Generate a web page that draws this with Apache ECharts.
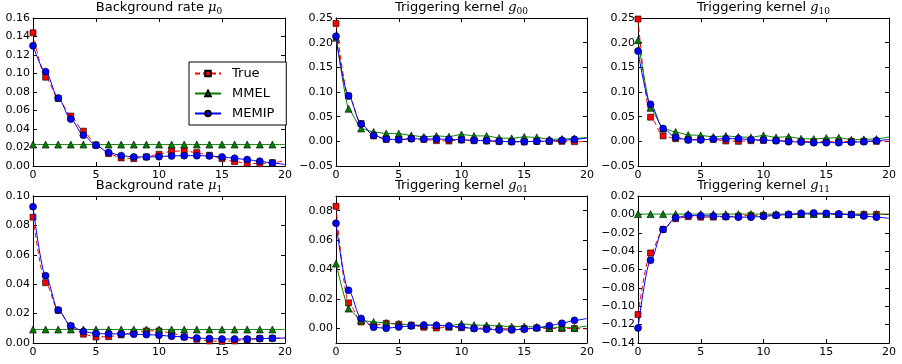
<!DOCTYPE html>
<html>
<head>
<meta charset="utf-8">
<script src="https://cdn.jsdelivr.net/npm/echarts@6/dist/echarts.min.js"></script>
<style>
html,body{margin:0;padding:0;background:#fff;}
#chart{width:902px;height:364px;}
</style>
</head>
<body>
<div id="chart"></div>
<script>
// ---------- data ----------
const xs = [0,1,2,3,4,5,6,7,8,9,10,11,12,13,14,15,16,17,18,19,20];
const xTicks = [0,5,10,15,20];

const trueMu0  = [0.144,0.096,0.073,0.054,0.0377,0.0228,0.0134,0.0087,0.008,0.0098,0.0127,0.016,0.0163,0.0145,0.0116,0.008,0.0047,0.003,0.0025,0.0036,0.006];
const mmelMu0  = [0.0232,0.0232,0.0232,0.0232,0.0232,0.0232,0.0232,0.0232,0.0232,0.0232,0.0232,0.0232,0.0232,0.0232,0.0232,0.0232,0.0232,0.0232,0.0232,0.0232,0.0232];
const memipMu0 = [0.130,0.102,0.0735,0.0507,0.0333,0.0224,0.0145,0.0112,0.0098,0.0098,0.0101,0.0109,0.0112,0.0112,0.0109,0.0098,0.0083,0.0069,0.0051,0.0033,0.0015];

const trueG00  = [0.239,0.092,0.036,0.011,0.004,0.0034,0.0054,0.004,0.0014,0.0007,0.0027,0.0014,0.0007,0,-0.0007,-0.001,0,0,0,-0.0007,-0.0007];
const mmelG00  = [0.21,0.066,0.026,0.019,0.016,0.0156,0.012,0.009,0.011,0.0095,0.014,0.011,0.011,0.0068,0.006,0.009,0.008,0.004,0.0047,0.0054,0.008];
const memipG00 = [0.213,0.092,0.035,0.012,0.0047,0.0034,0.0054,0.0047,0.0047,0.004,0.0034,0.002,0.0014,0,-0.0007,-0.0007,0,0.0007,0.002,0.004,0.0068];

const trueG10  = [0.248,0.049,0.011,0.0054,0.0034,0.004,0.004,0.0007,0,0.0014,0.002,0.0014,0.0007,0,-0.0007,-0.0007,-0.0007,0,0,0,0];
const mmelG10  = [0.205,0.068,0.026,0.019,0.013,0.012,0.009,0.011,0.009,0.008,0.012,0.008,0.0095,0.0054,0.0047,0.0068,0.0075,0.0034,0.004,0.0047,0.009];
const memipG10 = [0.183,0.075,0.026,0.008,0.0027,0.0027,0.0047,0.0054,0.0054,0.0034,0.0027,0.0014,-0.0007,-0.0014,-0.0027,-0.0027,-0.0027,-0.002,-0.0007,0.0014,0.004];

const trueMu1  = [0.0856,0.041,0.0222,0.0114,0.006,0.0041,0.0043,0.0055,0.0073,0.0082,0.0082,0.0069,0.0041,0.0025,0.0014,0.0011,0.0014,0.0023,0.003,0.0032,0.0034];
const mmelMu1  = [0.0092,0.0092,0.0092,0.0092,0.0092,0.0092,0.0092,0.0092,0.0092,0.0092,0.0092,0.0092,0.0092,0.0092,0.0092,0.0092,0.0092,0.0092,0.0092,0.0092,0.0092];
const memipMu1 = [0.0927,0.0458,0.0224,0.0117,0.0078,0.0064,0.0062,0.0062,0.006,0.0057,0.0053,0.0046,0.0041,0.0034,0.003,0.0027,0.0027,0.0027,0.003,0.0032,0.0034];

const trueG01  = [0.083,0.0173,0.0043,0.002,0.0034,0.0027,0.0022,0.0007,0.0002,0.0007,0.0004,0,0.0002,-0.0002,-0.0004,-0.0002,0.0002,-0.0002,-0.0002,-0.0002,-0.0004];
const mmelG01  = [0.044,0.0134,0.0054,0.0043,0.0036,0.0031,0.0022,0.0022,0.0022,0.0016,0.0031,0.0022,0.002,0.0016,0.0011,0.0013,0.0009,0.0002,0.0007,0.0004,0.0016];
const memipG01 = [0.0715,0.0258,0.0067,0.0007,0,0.0009,0.0016,0.0022,0.002,0.0016,0.0009,-0.0002,-0.0007,-0.0011,-0.0011,-0.0007,0.0002,0.0018,0.0034,0.0054,0.0067];

const trueG11  = [-0.109,-0.042,-0.0164,-0.0047,-0.0025,-0.003,-0.003,-0.0025,-0.0018,-0.0011,-0.0011,-0.0007,-0.0004,0,0.0004,0.0004,0,0,0,0,0];
const mmelG11  = [0.0003,0.0003,0.0003,0.0003,0.0003,0.0003,0.0003,0.0003,0.0003,0.0003,0.0003,0.0003,0.0003,0.0003,0.0003,0.0003,0.0003,0.0003,0.0003,0.0003,0.0003];
const memipG11 = [-0.1236,-0.0498,-0.0164,-0.0036,-0.0011,-0.0015,-0.0018,-0.0025,-0.003,-0.003,-0.0022,-0.0011,0,0.0011,0.0015,0.0011,0.0004,-0.0004,-0.0018,-0.003,-0.0044];

const yTicksMu0 = [0,0.02,0.04,0.06,0.08,0.10,0.12,0.14,0.16];
const yTicksG00 = [-0.05,0,0.05,0.10,0.15,0.20,0.25];
const yTicksG10 = [-0.05,0,0.05,0.10,0.15,0.20,0.25];
const yTicksMu1 = [0,0.02,0.04,0.06,0.08,0.10];
const yTicksG01 = [0,0.02,0.04,0.06,0.08];
const yTicksG11 = [-0.14,-0.12,-0.10,-0.08,-0.06,-0.04,-0.02,0,0.02];

const seriesNames = ['True','MMEL','MEMIP'];

// ---------- layout ----------
const panels = [
  {title:'{n|Background rate }{m|μ}{s|0}', grid:{left:33,top:18,width:252,height:148}, yMin:0, yMax:0.16, yTicks:yTicksMu0, data:[trueMu0,mmelMu0,memipMu0]},
  {title:'{n|Triggering kernel }{m|g}{s|00}', grid:{left:336,top:18,width:251,height:148}, yMin:-0.05, yMax:0.25, yTicks:yTicksG00, data:[trueG00,mmelG00,memipG00]},
  {title:'{n|Triggering kernel }{m|g}{s|10}', grid:{left:638,top:18,width:251,height:148}, yMin:-0.05, yMax:0.25, yTicks:yTicksG10, data:[trueG10,mmelG10,memipG10]},
  {title:'{n|Background rate }{m|μ}{s|1}', grid:{left:33,top:196,width:252,height:147}, yMin:0, yMax:0.10, yTicks:yTicksMu1, data:[trueMu1,mmelMu1,memipMu1]},
  {title:'{n|Triggering kernel }{m|g}{s|01}', grid:{left:336,top:196,width:251,height:147}, yMin:-0.01, yMax:0.09, yTicks:yTicksG01, data:[trueG01,mmelG01,memipG01]},
  {title:'{n|Triggering kernel }{m|g}{s|11}', grid:{left:638,top:196,width:251,height:147}, yMin:-0.14, yMax:0.02, yTicks:yTicksG11, data:[trueG11,mmelG11,memipG11]}
];

const FONT = 'DejaVu Sans';
const fmtY = v => {
  if (Math.abs(v) < 1e-9) return '0.00';
  const s = v.toFixed(2);
  return s.replace('-', '\u2212');
};

const styles = [
  {symbol:'rect', symbolSize:6, color:'#ff0000', line:{color:'#ff0000', width:1, type:[5,3]}, smooth:0.3},
  {symbol:'triangle', symbolSize:7, color:'#007f00', line:{color:'#007f00', width:1, type:'solid'}, smooth:0.15},
  {symbol:'circle', symbolSize:7, color:'#0000ff', line:{color:'#0000ff', width:1, type:'solid'}, smooth:0.3}
];

function pts(ys) {
  return xs.map((x, i) => i < xs.length - 1 ? [x, ys[i]] : {value:[x, ys[i]], symbol:'none'});
}

const grids = [], xAxes = [], yAxes = [], series = [], titles = [];
const axisCommon = {
  axisLine:{show:true, onZero:false, lineStyle:{color:'#000', width:1}},
  axisTick:{show:true, inside:true, length:4, lineStyle:{color:'#000', width:1}},
  splitLine:{show:false}
};

panels.forEach((p, i) => {
  grids.push(Object.assign({containLabel:false, show:false}, p.grid));
  titles.push({
    text:p.title,
    left:p.grid.left + p.grid.width/2,
    top:p.grid.top - 18,
    textAlign:'center',
    padding:0,
    textStyle:{
      fontWeight:'normal', fontFamily:FONT, fontSize:13, color:'#000',
      rich:{
        n:{fontFamily:FONT, fontSize:13, fontWeight:'normal', color:'#000', lineHeight:16},
        m:{fontFamily:'DejaVu Serif', fontStyle:'italic', fontWeight:'normal', fontSize:13, color:'#000', lineHeight:16},
        s:{fontFamily:'DejaVu Serif', fontWeight:'normal', fontSize:9, color:'#000', lineHeight:6, verticalAlign:'bottom'}
      }
    }
  });
  // bottom x
  xAxes.push(Object.assign({}, axisCommon, {
    type:'value', gridIndex:i, position:'bottom', min:0, max:20, interval:5,
    axisLabel:{show:true, margin:4, fontFamily:FONT, fontSize:11, color:'#000', customValues:xTicks},
    axisTick:Object.assign({}, axisCommon.axisTick, {customValues:xTicks})
  }));
  // top x
  xAxes.push(Object.assign({}, axisCommon, {
    type:'value', gridIndex:i, position:'top', min:0, max:20, interval:5,
    axisLabel:{show:false},
    axisTick:Object.assign({}, axisCommon.axisTick, {customValues:xTicks})
  }));
  // left y
  yAxes.push(Object.assign({}, axisCommon, {
    type:'value', gridIndex:i, position:'left', min:p.yMin, max:p.yMax,
    axisLabel:{show:true, margin:3, fontFamily:FONT, fontSize:11, color:'#000', customValues:p.yTicks, formatter:fmtY},
    axisTick:Object.assign({}, axisCommon.axisTick, {customValues:p.yTicks})
  }));
  // right y
  yAxes.push(Object.assign({}, axisCommon, {
    type:'value', gridIndex:i, position:'right', min:p.yMin, max:p.yMax,
    axisLabel:{show:false},
    axisTick:Object.assign({}, axisCommon.axisTick, {customValues:p.yTicks})
  }));
  p.data.forEach((ys, k) => {
    const st = styles[k];
    series.push({
      name:seriesNames[k], type:'line', xAxisIndex:2*i, yAxisIndex:2*i,
      data:pts(ys), symbol:st.symbol, symbolSize:st.symbolSize, showSymbol:true,
      smooth:st.smooth, smoothMonotone:'x',
      itemStyle:{color:st.color, borderColor:'#000', borderWidth:0.6},
      lineStyle:st.line, clip:true, z:2+k
    });
  });
});

const chart = echarts.init(document.getElementById('chart'), null, {renderer:'canvas'});
chart.setOption({
  animation:false,
  backgroundColor:'#fff',
  title:titles,
  grid:grids,
  xAxis:xAxes,
  yAxis:yAxes,
  legend:{
    data:seriesNames, orient:'vertical', left:189, top:62,
    backgroundColor:'#fff', borderColor:'#000', borderWidth:1, borderRadius:0,
    padding:[4,12,4,5], itemWidth:26, itemHeight:7, itemGap:5,
    textStyle:{fontFamily:FONT, fontSize:13, color:'#000', padding:[0,0,0,6], lineHeight:15}
  },
  series:series
});
</script>
</body>
</html>
